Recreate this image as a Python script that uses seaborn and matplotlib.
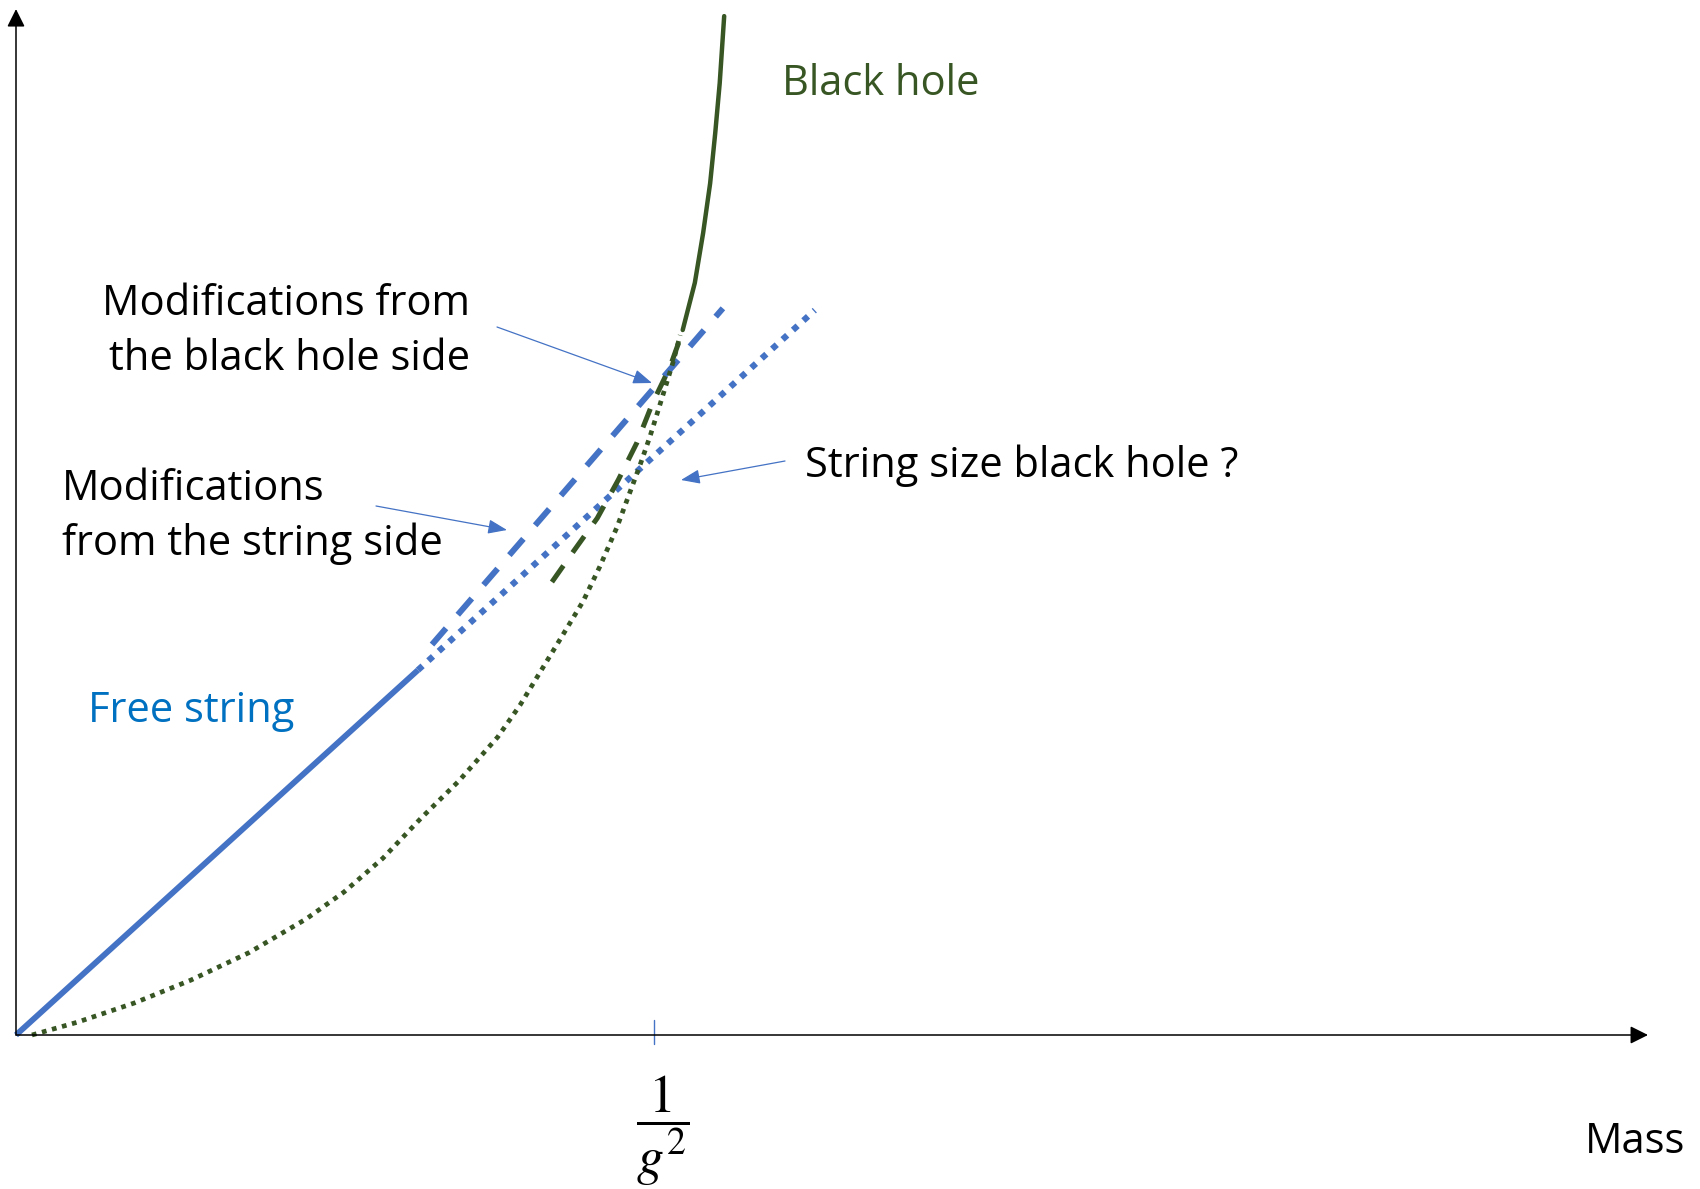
import matplotlib
matplotlib.use("Agg")
import matplotlib.pyplot as plt
import seaborn as sns

# ===============================
# Data (mass in units of 1/g^2)
# ===============================
free_x = [0.0, 0.630]
free_y = [0.0, 0.572]

string_mod_x = [0.630, 1.252]
string_mod_y = [0.572, 1.136]

bh_mod_x = [0.652, 1.108]
bh_mod_y = [0.612, 1.139]

bh_x = [1.045, 1.055, 1.064, 1.077, 1.088, 1.096, 1.103, 1.110]
bh_y = [1.105, 1.144, 1.179, 1.257, 1.335, 1.414, 1.492, 1.597]

bh_dash_x = [0.840, 0.873, 0.911, 0.944, 0.973, 0.998, 1.025, 1.044]
bh_dash_y = [0.710, 0.757, 0.810, 0.870, 0.928, 0.991, 1.047, 1.100]

bh_dot_x = [0.025, 0.096, 0.185, 0.274, 0.365, 0.455, 0.514, 0.575, 0.635,
            0.694, 0.755, 0.790, 0.857, 0.889, 0.915, 0.942, 0.962, 0.978,
            0.994, 1.009, 1.030, 1.041]
bh_dot_y = [0.000, 0.020, 0.050, 0.086, 0.129, 0.182, 0.224, 0.277, 0.340,
            0.398, 0.467, 0.517, 0.627, 0.680, 0.734, 0.796, 0.850, 0.893,
            0.939, 0.987, 1.055, 1.097]

tick_x = 1.0
tick_label = r"$\dfrac{1}{g^2}$"

BLUE = "#4472C4"
GREEN = "#375623"
TEXT_BLUE = "#0070C0"

# ===============================
# Figure
# ===============================
sns.set_theme(style="white")
plt.rcParams["font.family"] = ["Open Sans", "DejaVu Sans"]
plt.rcParams["mathtext.fontset"] = "stix"
plt.rcParams["text.color"] = "black"

fig = plt.figure(figsize=(17, 11.89), dpi=100)
ax = fig.add_axes([0, 0, 1, 1])
ax.set_xlim(-16 / 638, 1684 / 638)
ax.set_ylim(-154 / 638, 1035 / 638)
ax.axis("off")

# curves
sns.lineplot(x=free_x, y=free_y, ax=ax, color=BLUE, lw=4.2, sort=False,
             estimator=None, solid_capstyle="butt")
sns.lineplot(x=string_mod_x, y=string_mod_y, ax=ax, color=BLUE, lw=4.5,
             sort=False, estimator=None, linestyle=(0, (1, 1.25)))
sns.lineplot(x=bh_mod_x, y=bh_mod_y, ax=ax, color=BLUE, lw=4.3, sort=False,
             estimator=None, linestyle=(0, (3.6, 3.0)))
sns.lineplot(x=bh_dot_x, y=bh_dot_y, ax=ax, color=GREEN, lw=3.4, sort=False,
             estimator=None, linestyle=(0, (1, 1.2)))
sns.lineplot(x=bh_dash_x, y=bh_dash_y, ax=ax, color=GREEN, lw=3.6, sort=False,
             estimator=None, linestyle=(0, (4, 3.2)))
sns.lineplot(x=bh_x, y=bh_y, ax=ax, color=GREEN, lw=3.2, sort=False,
             estimator=None)

# axes with arrows
axis_style = dict(arrowstyle="-|>,head_length=0.4,head_width=0.2", lw=1.1,
                  color="black", mutation_scale=27, shrinkA=0, shrinkB=0)
ax.annotate("", xy=(2.558, 0), xytext=(0, 0), arrowprops=axis_style)
ax.annotate("", xy=(0, 1.608), xytext=(0, 0), arrowprops=axis_style)

# tick at 1/g^2
ax.plot([tick_x, tick_x], [-0.0140, 0.0235], color=BLUE, lw=1.0)
ax.text(1.014, -0.150, tick_label, fontsize=39, ha="center", va="center",
        color="black")

# labels
fs = 30
ax.text(2.4592, -0.185, "Mass", fontsize=fs, ha="left", va="baseline",
        color="black")
ax.text(1.2006, 1.4734, "Black hole", fontsize=fs, color=GREEN,
        ha="left", va="baseline")
ax.text(0.1129, 0.4906, "Free string", fontsize=fs, color=TEXT_BLUE,
        ha="left", va="baseline")
ax.text(0.7116, 1.1285, "Modifications from", fontsize=fs, ha="right",
        va="baseline", color="black")
ax.text(0.7116, 1.0423, "the black hole side", fontsize=fs, ha="right",
        va="baseline", color="black")
ax.text(0.0721, 0.8386, "Modifications", fontsize=fs, ha="left",
        va="baseline", color="black")
ax.text(0.0721, 0.7524, "from the string side", fontsize=fs, ha="left",
        va="baseline", color="black")
ax.text(1.2367, 0.8746, "String size black hole ?", fontsize=fs, ha="left",
        va="baseline", color="black")

# pointer arrows
ptr = dict(arrowstyle="-|>,head_length=0.58,head_width=0.22", lw=0.9,
           color=BLUE, mutation_scale=20, shrinkA=0, shrinkB=0)
ax.annotate("", xy=((652 - 16) / 638, (1035 - 383) / 638),
            xytext=((497 - 16) / 638, (1035 - 327) / 638), arrowprops=ptr)
ax.annotate("", xy=((507 - 16) / 638, (1035 - 530) / 638),
            xytext=((376 - 16) / 638, (1035 - 506) / 638), arrowprops=ptr)
ax.annotate("", xy=((681 - 16) / 638, (1035 - 480) / 638),
            xytext=((785 - 16) / 638, (1035 - 461) / 638), arrowprops=ptr)

plt.savefig("out.png", dpi=100)
plt.close()
